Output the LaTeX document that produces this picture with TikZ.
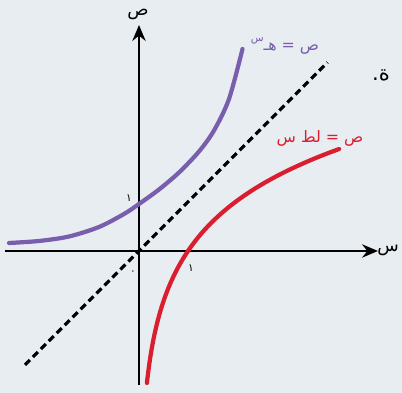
\documentclass[tikz,border=0pt]{standalone}
\usepackage{fontspec}
\newfontfamily\arabicfont[Script=Arabic]{DejaVu Sans}
\TeXXeTstate=1
\usetikzlibrary{arrows.meta}

\definecolor{paper}{RGB}{231,237,241}
\definecolor{expcol}{RGB}{121,94,173}
\definecolor{lncol}{RGB}{218,30,48}

\begin{document}
\begin{tikzpicture}[>={Stealth[length=9pt,width=7.5pt]},
    axis/.style={->,line width=1.5pt},
    curve/.style={line width=2.4pt,line cap=round},
    mirror/.style={line width=1.8pt,dash pattern=on 4pt off 2.4pt},
    lbl/.style={font=\arabicfont\fontsize{9}{10}\selectfont,inner sep=1pt}]
    \fill[paper] (-2.78,-2.84) rectangle (5.26,5.02);
    \useasboundingbox (-2.78,-2.84) rectangle (5.26,5.02);

    % axes
    \coordinate (xmin) at (-2.68,0);
    \coordinate (xmax) at (4.78,0);
    \coordinate (ymin) at (0,-2.68);
    \coordinate (ymax) at (0,4.52);
    \draw[axis] (xmin) -- (xmax);
    \draw[axis] (ymin) -- (ymax);
    \node[lbl,font=\arabicfont\fontsize{10}{11}\selectfont] (ylbl) at (-0.02,4.74) {ص};
    \node[lbl,font=\arabicfont\fontsize{10}{11}\selectfont] (xlbl) at (4.98,0.02) {س};

    % line of reflection
    \coordinate (m1) at (-2.28,-2.28);
    \coordinate (m2) at (3.77,3.77);
    \draw[mirror] (m1) -- (m2);

    % exponential
    \draw[curve,expcol] plot[smooth] coordinates
        {(-2.6,0.16) (-2.0,0.2) (-1.4,0.29) (-0.8,0.48) (-0.3,0.74) (0,0.94)
         (0.4,1.23) (0.8,1.57) (1.2,1.99) (1.5,2.41) (1.8,3.04) (2.07,4.04)};
    % logarithm
    \draw[curve,lncol] plot[domain=-2.64:2.04,samples=60,smooth]
        ({0.98*exp(0.69*\x)},{\x});

    % labels
    \node[lbl,text=expcol] (explbl) at (2.92,4.1)
        {\beginR ص = هـ\raisebox{5pt}{\fontsize{6}{7}\selectfont س}\endR};
    \node[lbl,text=lncol] (lnlbl) at (3.62,2.26) {\beginR ص = لط س\endR};
    \node[lbl,font=\arabicfont\fontsize{6}{7}\selectfont] (one-y) at (-0.2,1.06) {١};
    \node[lbl,font=\arabicfont\fontsize{6}{7}\selectfont] (one-x) at (1.04,-0.34) {١};
    \node[lbl,font=\arabicfont\fontsize{6}{7}\selectfont] (zero) at (-0.12,-0.44) {٠};
    \node[lbl,font=\arabicfont\fontsize{12}{13}\selectfont] (cut) at (4.84,3.52) {\beginR ة.\endR};
\end{tikzpicture}
\end{document}
